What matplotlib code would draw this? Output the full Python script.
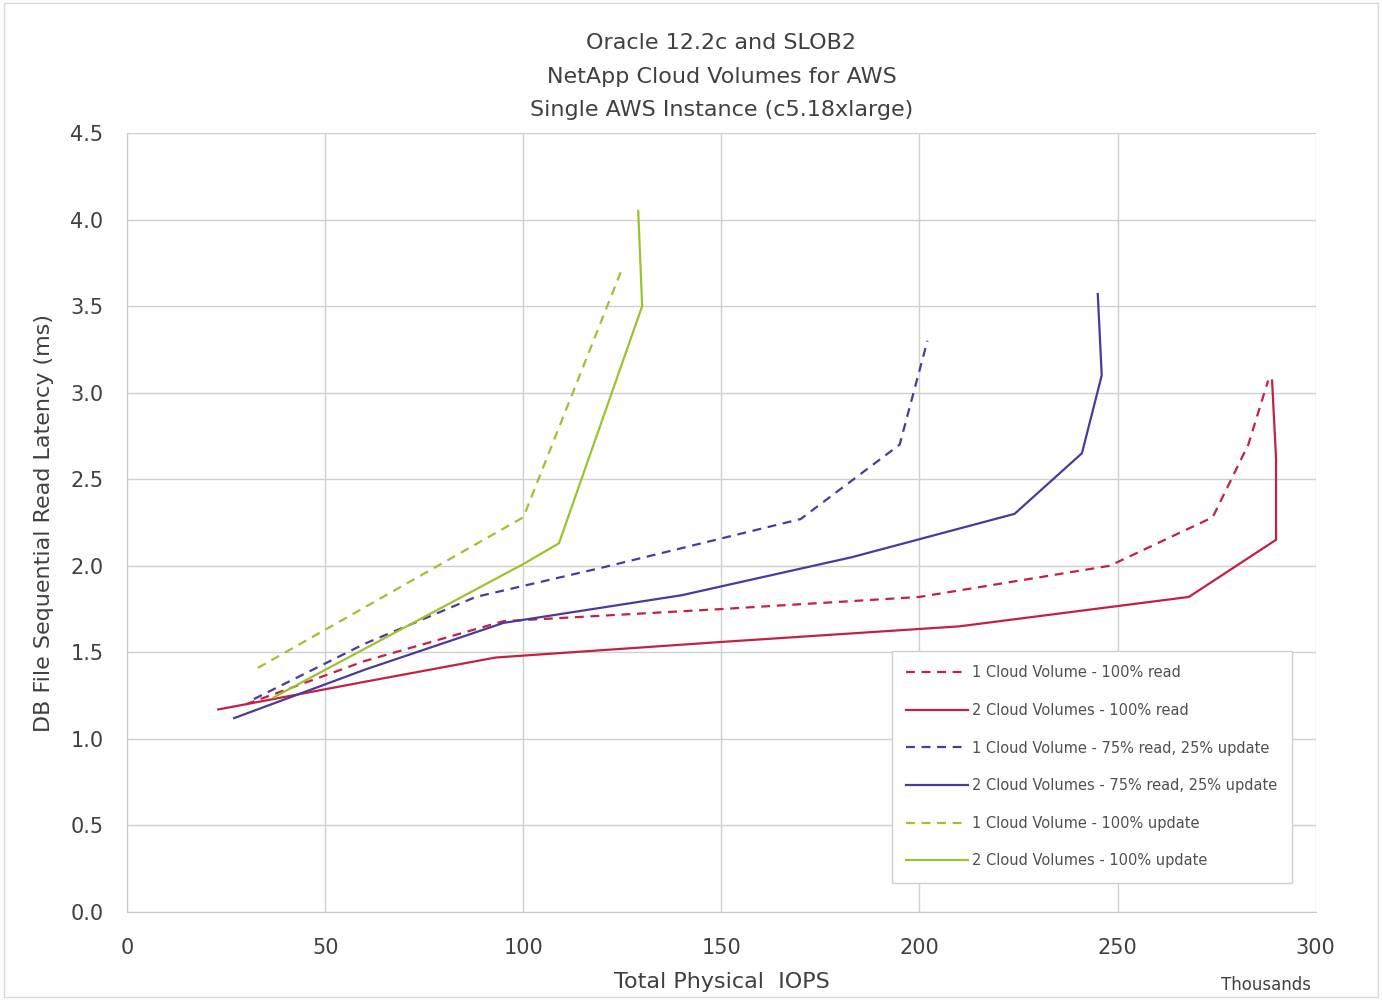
import matplotlib.pyplot as plt
import numpy as np

# IOPS in thousands, latency in ms
read1_x = [30, 60, 95, 150, 200, 248, 274, 283, 288]
read1_y = [1.20, 1.45, 1.68, 1.75, 1.82, 2.00, 2.28, 2.70, 3.07]
read2_x = [23, 60, 93, 150, 210, 268, 290, 290, 289]
read2_y = [1.17, 1.33, 1.47, 1.56, 1.65, 1.82, 2.15, 2.62, 3.07]
mix1_x = [32, 60, 88, 120, 170, 195, 202]
mix1_y = [1.23, 1.55, 1.82, 1.99, 2.27, 2.70, 3.30]
mix2_x = [27, 60, 95, 140, 183, 224, 241, 246, 245]
mix2_y = [1.12, 1.40, 1.67, 1.83, 2.05, 2.30, 2.65, 3.10, 3.57]
upd1_x = [33, 100, 125]
upd1_y = [1.41, 2.28, 3.72]
upd2_x = [37, 100, 109, 130, 129]
upd2_y = [1.24, 2.01, 2.13, 3.50, 4.05]

labels = ['1 Cloud Volume - 100% read',
          '2 Cloud Volumes - 100% read',
          '1 Cloud Volume - 75% read, 25% update',
          '2 Cloud Volumes - 75% read, 25% update',
          '1 Cloud Volume - 100% update',
          '2 Cloud Volumes - 100% update']

red = '#c41f45'
blue = '#4a3a9c'
green = '#9cc32e'

fig = plt.figure(figsize=(13.82, 10), dpi=100)
ax = fig.add_axes([0.092, 0.088, 0.860, 0.779])

ax.plot(read1_x, read1_y, color=red, ls=(0, (4, 3)), lw=1.6, label=labels[0])
ax.plot(read2_x, read2_y, color=red, lw=1.6, label=labels[1])
ax.plot(mix1_x, mix1_y, color=blue, ls=(0, (4, 3)), lw=1.6, label=labels[2])
ax.plot(mix2_x, mix2_y, color=blue, lw=1.6, label=labels[3])
ax.plot(upd1_x, upd1_y, color=green, ls=(0, (4, 3)), lw=1.6, label=labels[4])
ax.plot(upd2_x, upd2_y, color=green, lw=1.6, label=labels[5])

ax.set_xlim(0, 300)
ax.set_ylim(0, 4.5)
ax.set_xticks(np.arange(0, 301, 50))
ax.set_yticks(np.arange(0, 4.51, 0.5))
ax.set_yticklabels(['%.1f' % v for v in np.arange(0, 4.51, 0.5)])
ax.grid(True, color='#d0d0d0', lw=1)
ax.set_axisbelow(True)
for s in ['top', 'right']:
    ax.spines[s].set_visible(False)
for s in ['left', 'bottom']:
    ax.spines[s].set_color('#c8c8c8')
ax.tick_params(length=0, labelsize=15, colors='#404040')
ax.tick_params(axis='x', pad=19)
ax.tick_params(axis='y', pad=17)

ax.set_xlabel('Total Physical  IOPS', fontsize=16, color='#404040', labelpad=10)
ax.set_ylabel('DB File Sequential Read Latency (ms)', fontsize=16, color='#404040', labelpad=12)
ax.set_title('Oracle 12.2c and SLOB2\nNetApp Cloud Volumes for AWS\nSingle AWS Instance (c5.18xlarge)',
             fontsize=16, color='#404040', linespacing=1.85, pad=12)
fig.text(0.916, 0.01, 'Thousands', fontsize=12, color='#404040', ha='center')

leg = ax.legend(loc='lower right', bbox_to_anchor=(0.986, 0.028), fontsize=10.5,
                labelspacing=1.55, handlelength=4.2, handletextpad=0.3,
                borderpad=1.0, fancybox=False, edgecolor='#d0d0d0', framealpha=1)
for t in leg.get_texts():
    t.set_color('#505050')

fig.patches.append(plt.Rectangle((0.003, 0.003), 0.994, 0.994, transform=fig.transFigure,
                                 fill=False, edgecolor='#d9d9d9', lw=1))

fig.savefig('out.png', dpi=100)
